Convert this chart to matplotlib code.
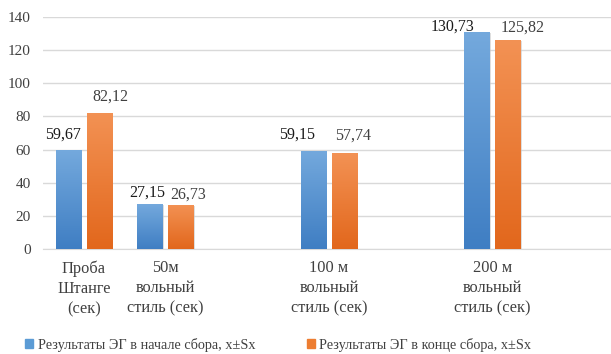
import numpy as np
import matplotlib
matplotlib.use("Agg")
import matplotlib.pyplot as plt
from matplotlib.colors import LinearSegmentedColormap
from matplotlib.patches import Patch

# Categories (blank slots keep the spacing of the original worksheet)
categories = ["Проба\nШтанге\n(сек)", "50м\nвольный\nстиль (сек)", "",
              "100 м\nвольный\nстиль (сек)", "", "200 м\nвольный\nстиль (сек)", ""]
start_values = [59.67, 27.15, np.nan, 59.15, np.nan, 130.73, np.nan]
end_values = [82.12, 26.73, np.nan, 57.74, np.nan, 125.82, np.nan]
start_labels = ["59,67", "27,15", "", "59,15", "", "130,73", ""]
end_labels = ["82,12", "26,73", "", "57,74", "", "125,82", ""]
series_names = ["Результаты ЭГ в начале сбора, x±Sx", "Результаты ЭГ в конце сбора, x±Sx"]
y_ticks = [0, 20, 40, 60, 80, 100, 120, 140]

# label nudges in pixels (dx, dy above bar top)
start_offsets = [(-5, 15), (-3, 11), None, (-16, 16), None, (-24, 6), None]
end_offsets = [(11, 16), (7, 10), None, (9, 18), None, (15, 13), None]

plt.rcParams["font.family"] = ["Liberation Serif", "DejaVu Serif"]

DPI = 100
fig = plt.figure(figsize=(6.11, 3.54), dpi=DPI)
W, H = 611, 354
ax = fig.add_axes([43 / W, 105 / H, (615 - 43) / W, (337 - 105) / H])

x = np.arange(len(categories))
bw = 0.31
off = 0.19

blue_top, blue_bot = "#74a9dd", "#3f7ec3"
orng_top, orng_bot = "#f39254", "#e2671c"

def gradient_bars(xs, vals, top, bot):
    bars = ax.bar(xs, np.nan_to_num(vals), width=bw, color=bot, zorder=3,
                  linewidth=0)
    cmap = LinearSegmentedColormap.from_list("g", [bot, top])
    grad = np.linspace(0, 1, 256).reshape(-1, 1)
    for b, v in zip(bars, vals):
        if np.isnan(v):
            continue
        x0 = b.get_x()
        # soft shadow to the right
        sh = plt.Rectangle((x0 + 0.012, 0), b.get_width(), v - 0.6,
                           color="#c8c8c8", alpha=0.6, zorder=2, linewidth=0)
        ax.add_patch(sh)
        im = ax.imshow(grad, cmap=cmap, aspect="auto", origin="lower",
                       extent=[x0, x0 + b.get_width(), 0, v], zorder=3.5,
                       interpolation="bicubic")
        im.set_clip_path(b)
    return bars

b1 = gradient_bars(x - off, start_values, blue_top, blue_bot)
b2 = gradient_bars(x + off, end_values, orng_top, orng_bot)

for bars, vals, labs, offs, col in [(b1, start_values, start_labels, start_offsets, "#1a1a1a"),
                                    (b2, end_values, end_labels, end_offsets, "#404040")]:
    for b, v, lab, o in zip(bars, vals, labs, offs):
        if np.isnan(v):
            continue
        ax.annotate(lab, (b.get_x() + b.get_width() / 2, v),
                    xytext=(o[0] * 72 / DPI, o[1] * 72 / DPI), textcoords="offset points",
                    ha="center", va="center", fontsize=11.5, color=col, zorder=5)

ax.set_xlim(-0.5, len(categories) - 0.5)
ax.set_ylim(0, 140)
ax.set_yticks(y_ticks)
ax.set_xticks(x)
ax.set_xticklabels(categories, linespacing=1.35, fontsize=11.8)
ax.yaxis.grid(True, color="#d9d9d9", linewidth=1.0, zorder=0)
ax.set_axisbelow(True)
for s in ["top", "right", "left"]:
    ax.spines[s].set_visible(False)
ax.spines["bottom"].set_color("#d9d9d9")
ax.tick_params(axis="y", length=0, labelsize=11, colors="#404040", pad=9)
ax.tick_params(axis="x", length=0, colors="#404040", pad=8)

handles = [Patch(color="#5b9bd5"), Patch(color="#ed7d31")]
fig.legend(handles, series_names, loc="center", bbox_to_anchor=(278 / W, 1 - 345 / H),
           ncol=2, frameon=False, fontsize=10.3, handlelength=0.6, handleheight=0.6,
           handletextpad=0.3, columnspacing=3.6, labelcolor="#404040")

fig.savefig("out.png", dpi=DPI)
